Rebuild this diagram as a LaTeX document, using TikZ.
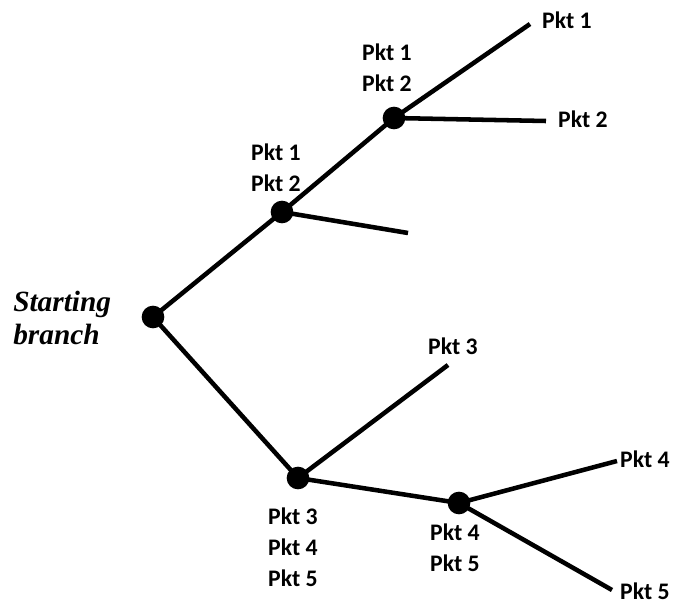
\documentclass[tikz,border=0pt]{standalone}
\usepackage{fontspec}
\setmainfont{Carlito}
\newfontfamily\startfont{Liberation Serif}
\begin{document}
\begin{tikzpicture}[x=0.75pt,y=-0.75pt,
  dot/.style={circle,fill=black,inner sep=0pt,minimum size=17pt},
  br/.style={line width=3.4pt},
  lbl/.style={font=\fontsize{17.8}{23.2}\selectfont\bfseries,align=center,inner sep=0pt}]
\useasboundingbox (0,0) rectangle (676,604);
\node[dot] (r) at (153,317) {};
\node[dot] (a) at (282,212) {};
\node[dot] (b) at (394,118) {};
\node[dot] (c) at (298,478) {};
\node[dot] (d) at (459,503) {};
\coordinate (e1) at (530,24);
\coordinate (e2) at (546,121);
\coordinate (ea) at (408,233);
\coordinate (e3) at (448,365);
\coordinate (e4) at (617,461);
\coordinate (e5) at (612,590);
\draw[br] (r.center) -- (a.center) -- (b.center) -- (e1);
\draw[br] (b.center) -- (e2);
\draw[br] (a.center) -- (ea);
\draw[br] (r.center) -- (c.center) -- (d.center) -- (e4);
\draw[br] (c.center) -- (e3);
\draw[br] (d.center) -- (e5);
\node[lbl] (l1) at (567,20) {Pkt 1};
\node[lbl] (l2) at (583,119) {Pkt 2};
\node[lbl] (lb) at (387,68) {Pkt 1\\Pkt 2};
\node[lbl] (la) at (276,168) {Pkt 1\\Pkt 2};
\node[lbl] (l3) at (453,346) {Pkt 3};
\node[lbl] (lc) at (293,547) {Pkt 3\\Pkt 4\\Pkt 5};
\node[lbl] (ld) at (455,548) {Pkt 4\\Pkt 5};
\node[lbl] (l4) at (645,459) {Pkt 4};
\node[lbl] (l5) at (645,591) {Pkt 5};
\node[font=\startfont\fontsize{22}{25}\selectfont\bfseries\itshape,align=left,inner sep=0pt,anchor=west] (s) at (13,318) {Starting\\branch};
\end{tikzpicture}
\end{document}
